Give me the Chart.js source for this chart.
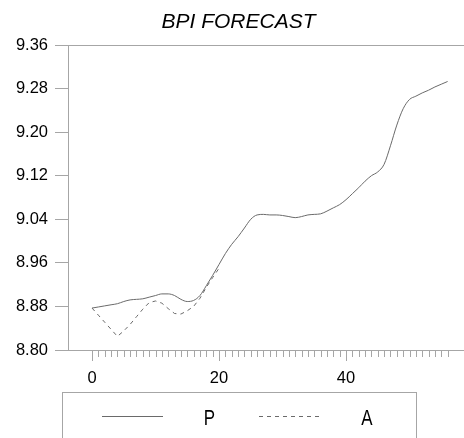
<!DOCTYPE html>
<html>
<head>
<meta charset="utf-8">
<title>BPI FORECAST</title>
<script src="https://cdn.jsdelivr.net/npm/chart.js@4/dist/chart.umd.min.js"></script>
<style>
  html, body { margin: 0; padding: 0; background: #fff; }
  #wrap { width: 464px; height: 438px; }
</style>
</head>
<body>
<div id="wrap"><canvas id="c" width="464" height="438"></canvas></div>
<script>
// Period index for the forecast series
const steps = [0, 1, 2, 3, 4, 5, 6, 7, 8, 9, 10, 11, 12, 13, 14, 15, 16, 17, 18, 19,
  20, 21, 22, 23, 24, 25, 26, 27, 28, 29, 30, 31, 32, 33, 34, 35, 36, 37, 38, 39,
  40, 41, 42, 43, 44, 45, 46, 47, 48, 49, 50, 51, 52, 53, 54, 55, 56];

// P: predicted BPI (log level)
const predicted = [8.877, 8.879, 8.881, 8.883, 8.885, 8.889, 8.892, 8.893, 8.894, 8.897,
  8.900, 8.903, 8.903, 8.900, 8.893, 8.889, 8.891, 8.900, 8.918, 8.937,
  8.957, 8.977, 8.994, 9.008, 9.024, 9.040, 9.048, 9.049, 9.048, 9.048,
  9.047, 9.045, 9.043, 9.045, 9.048, 9.049, 9.050, 9.055, 9.061, 9.067,
  9.076, 9.087, 9.098, 9.110, 9.120, 9.127, 9.141, 9.175, 9.213, 9.243,
  9.260, 9.266, 9.272, 9.277, 9.283, 9.288, 9.293];

// A: actual BPI, available for the first periods only
const actualSteps = [0, 1, 2, 3, 4, 5, 6, 7, 8, 9, 10, 11, 12, 13, 14, 15, 16, 17, 18, 19, 20];
const actual = [8.877, 8.864, 8.851, 8.838, 8.825, 8.835, 8.847, 8.861, 8.875, 8.887,
  8.890, 8.886, 8.876, 8.867, 8.866, 8.872, 8.880, 8.895, 8.915, 8.933, 8.950];

const xTicks = [0, 20, 40];
const yTicks = [8.80, 8.88, 8.96, 9.04, 9.12, 9.20, 9.28, 9.36];

const TITLE = 'BPI FORECAST';
const LINE = '#6a6a6a';
const AXIS = '#a6a6a6';
const FONT = '"Liberation Sans", Arial, Helvetica, sans-serif';

// Minor x ticks, title and the boxed legend underneath the axis
const decorations = {
  id: 'decorations',
  afterDraw(chart) {
    const ctx = chart.ctx;
    const xs = chart.scales.x;
    ctx.save();

    ctx.strokeStyle = AXIS;
    ctx.lineWidth = 1;
    for (const s of steps) {
      if (xTicks.includes(s)) continue;
      const px = Math.round(xs.getPixelForValue(s)) + 0.5;
      ctx.beginPath();
      ctx.moveTo(px, xs.top + 1);
      ctx.lineTo(px, xs.top + 7);
      ctx.stroke();
    }

    ctx.fillStyle = '#000';
    ctx.font = 'italic 21px ' + FONT;
    ctx.textAlign = 'center';
    ctx.textBaseline = 'alphabetic';
    ctx.fillText(TITLE, 238.5, 28);

    // legend frame
    ctx.strokeStyle = AXIS;
    ctx.setLineDash([]);
    ctx.strokeRect(62.5, 392.5, 354, 60);

    const entries = [
      { x0: 102, x1: 163, tx: 209.5 },
      { x0: 259, x1: 320, tx: 367 }
    ];
    chart.data.datasets.forEach((ds, i) => {
      const e = entries[i];
      ctx.strokeStyle = ds.borderColor;
      ctx.lineWidth = ds.borderWidth;
      ctx.setLineDash(ds.borderDash || []);
      ctx.beginPath();
      ctx.moveTo(e.x0, 416.5);
      ctx.lineTo(e.x1, 416.5);
      ctx.stroke();
      ctx.setLineDash([]);
      ctx.save();
      ctx.translate(e.tx, 425);
      ctx.scale(0.77, 1);
      ctx.font = '22px ' + FONT;
      ctx.fillStyle = '#000';
      ctx.textAlign = 'center';
      ctx.fillText(ds.label, 0, 0);
      ctx.restore();
    });
    ctx.restore();
  }
};

new Chart(document.getElementById('c'), {
  type: 'line',
  data: {
    datasets: [
      {
        label: 'P',
        data: steps.map((s, i) => ({ x: s, y: predicted[i] })),
        borderColor: LINE,
        borderWidth: 1,
        cubicInterpolationMode: 'monotone',
        pointRadius: 0,
        fill: false
      },
      {
        label: 'A',
        data: actualSteps.map((s, i) => ({ x: s, y: actual[i] })),
        borderColor: LINE,
        borderWidth: 1,
        borderDash: [4, 4],
        tension: 0,
        pointRadius: 0,
        fill: false
      }
    ]
  },
  options: {
    responsive: false,
    animation: false,
    devicePixelRatio: 1,
    layout: { padding: { top: 45, left: 0, right: 0, bottom: 0 } },
    plugins: {
      legend: { display: false },
      title: { display: false },
      tooltip: { enabled: false }
    },
    scales: {
      x: {
        type: 'linear',
        min: -3.78,
        max: 58.58,
        afterBuildTicks: s => { s.ticks = xTicks.map(v => ({ value: v })); },
        afterFit: s => { s.height = 88; },
        grid: { drawOnChartArea: false, tickLength: 11, tickColor: AXIS, tickWidth: 1 },
        border: { display: true, color: AXIS, width: 1 },
        ticks: {
          font: { family: FONT, size: 16.5 },
          color: '#000',
          padding: 8,
          maxRotation: 0,
          autoSkip: false,
          callback: v => String(v)
        }
      },
      y: {
        type: 'linear',
        min: 8.80,
        max: 9.36,
        afterBuildTicks: s => { s.ticks = yTicks.map(v => ({ value: v })); },
        afterFit: s => { s.width = 68; },
        grid: {
          drawOnChartArea: true,
          color: c => (c.index === yTicks.length - 1 ? AXIS : 'rgba(0,0,0,0)'),
          tickColor: AXIS,
          tickLength: 13,
          tickWidth: 1
        },
        border: { display: true, color: AXIS, width: 1 },
        ticks: {
          font: { family: FONT, size: 16.5 },
          color: '#000',
          padding: 7,
          autoSkip: false,
          callback: v => v.toFixed(2)
        }
      }
    }
  },
  plugins: [decorations]
});
</script>
</body>
</html>
